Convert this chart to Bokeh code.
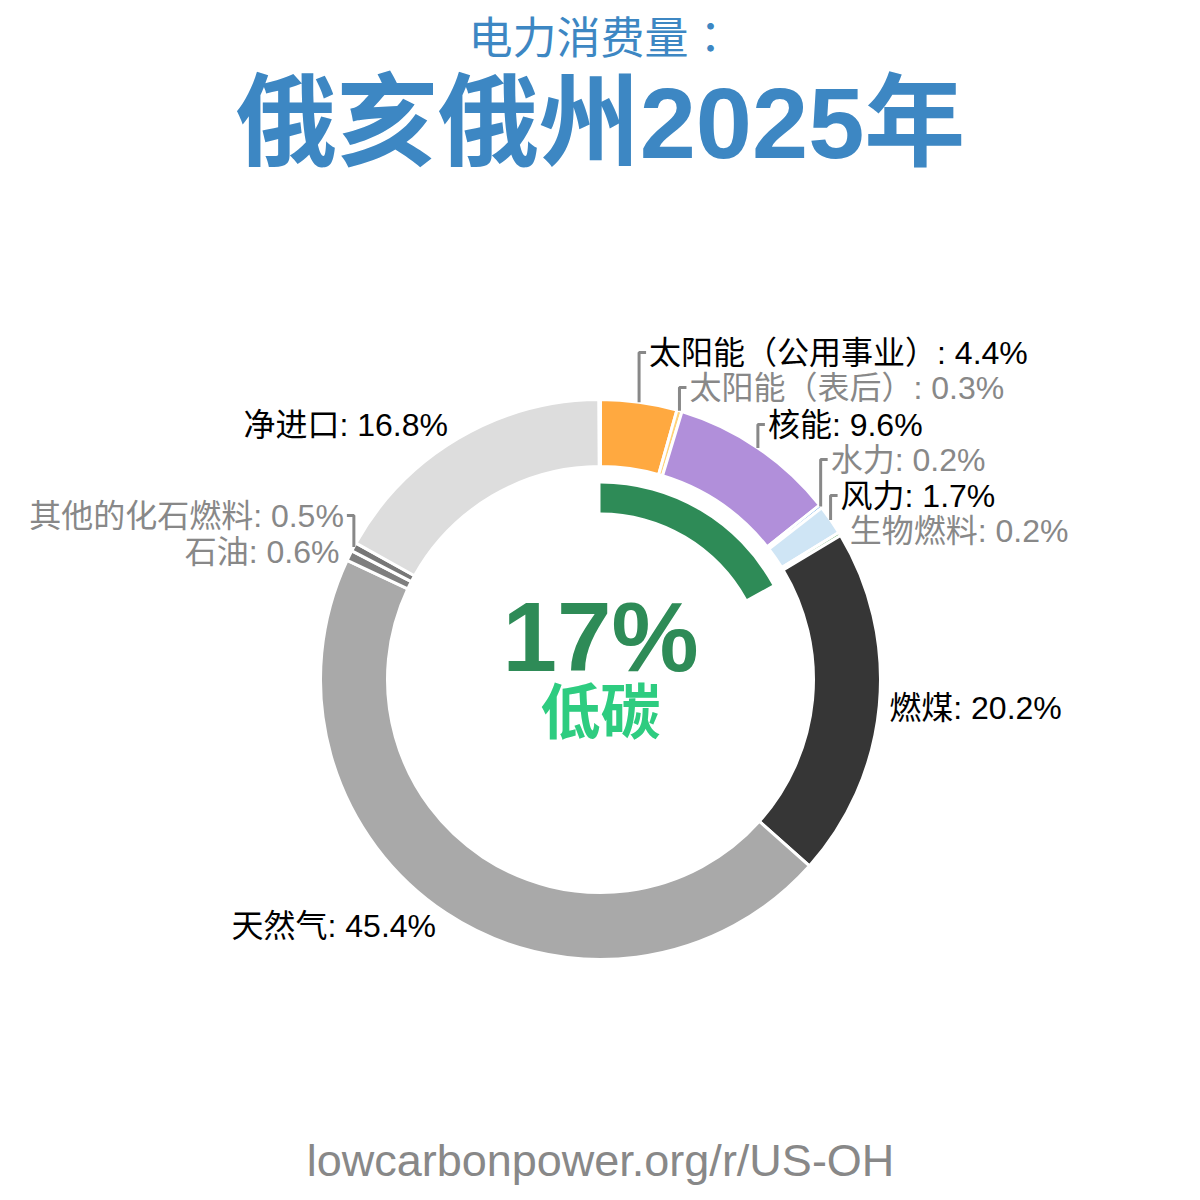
import numpy as np
from bokeh.plotting import figure
from bokeh.models import Range1d, ColumnDataSource
from bokeh.core.properties import value
from bokeh.embed import file_html
from bokeh.resources import INLINE

# ---- data ----
sources = ["太阳能（公用事业）", "太阳能（表后）", "核能", "水力", "风力", "生物燃料",
           "燃煤", "天然气", "石油", "其他的化石燃料", "净进口"]
shares = [4.4, 0.3, 9.6, 0.2, 1.7, 0.2, 20.2, 45.4, 0.6, 0.5, 16.8]
colors = ["#FFA940", "#FFD27A", "#B18FDA", "#3E8FD8", "#CFE5F5", "#5DAA60",
          "#363636", "#A9A9A9", "#7F7F7F", "#777777", "#DDDDDD"]
low_carbon_share = 17
title_top = "电力消费量："
title_main = "俄亥俄州2025年"
center_label = "低碳"
footer = "lowcarbonpower.org/r/US-OH"

# ---- layout (label vertical positions, pixels from top) ----
label_y = [352, 387, 424, 459, 495, 530, 707, 925, 551, 515, 424]

W = H = 1200
CX, CY = 600, 679          # pixel centre of donut
R_OUT, R_IN = 280, 213
G_OUT, G_IN = 196, 167

FONT = value("Liberation Sans, Noto Sans CJK SC")
FONT_JP = value("Liberation Sans, Noto Sans CJK JP")

def Y(py):
    return H - py

p = figure(width=W, height=H, x_range=Range1d(0, W), y_range=Range1d(0, H),
           min_border=0, toolbar_location=None, output_backend="svg",
           x_axis_type=None, y_axis_type=None)
p.grid.visible = False
p.outline_line_color = None
p.background_fill_color = "white"
p.border_fill_color = "white"

# ---- donut slices ----
frac = np.array(shares) / 100.0
cum = np.concatenate([[0], np.cumsum(frac)])
start = np.pi / 2 - cum[:-1] * 2 * np.pi
end = np.pi / 2 - cum[1:] * 2 * np.pi
src = ColumnDataSource(dict(start=start, end=end, color=colors))
p.annular_wedge(x=CX, y=Y(CY), inner_radius=R_IN, outer_radius=R_OUT,
                start_angle="start", end_angle="end", direction="clock",
                fill_color="color", line_color="white", line_width=3, source=src)

# ---- low-carbon arc ----
p.annular_wedge(x=CX, y=Y(CY), inner_radius=G_IN, outer_radius=G_OUT,
                start_angle=np.pi / 2,
                end_angle=np.pi / 2 - low_carbon_share / 100 * 2 * np.pi,
                direction="clock", fill_color="#2E8B57", line_color=None)

# ---- labels & leaders ----
mid = (cum[:-1] + cum[1:]) / 2 * 2 * np.pi   # clockwise from top
for i, name in enumerate(sources):
    a = mid[i]
    px = CX + R_OUT * np.sin(a)
    py = CY - R_OUT * np.cos(a)
    side = 1 if np.sin(a) >= 0 else -1
    ly = label_y[i]
    if abs(ly - py) > 20:
        p.line([px, px, px + 7 * side], [Y(py), Y(ly), Y(ly)],
               line_color="#888888", line_width=3)
    col = "#000000" if shares[i] >= 1 else "#888888"
    p.text(x=[px + 10 * side], y=[Y(ly)], text=[f"{name}: {shares[i]}%"],
           text_align="left" if side > 0 else "right", text_baseline="middle",
           text_font=FONT, text_font_size="32px", text_color=col)

# ---- centre texts ----
p.text(x=[CX], y=[Y(636)], text=[f"{low_carbon_share}%"], text_align="center",
       text_baseline="middle", text_font=FONT, text_font_style="bold",
       text_font_size="98px", text_color="#2E8B57")
p.text(x=[CX], y=[Y(713)], text=[center_label], text_align="center",
       text_baseline="middle", text_font=FONT, text_font_style="bold",
       text_font_size="60px", text_color="#2ECC80")

# ---- titles ----
p.text(x=[W / 2], y=[Y(38)], text=[title_top], text_align="center",
       text_baseline="middle", text_font=FONT_JP, text_font_size="44px",
       text_color="#3D87C3")
p.text(x=[W / 2], y=[Y(122)], text=[title_main], text_align="center",
       text_baseline="middle", text_font=FONT, text_font_style="bold",
       text_font_size="101px", text_color="#3D87C3")
p.text(x=[W / 2], y=[Y(1160)], text=[footer], text_align="center",
       text_baseline="middle", text_font=FONT, text_font_size="45px",
       text_color="#888888")

open("out.html", "w").write(file_html(p, INLINE))
